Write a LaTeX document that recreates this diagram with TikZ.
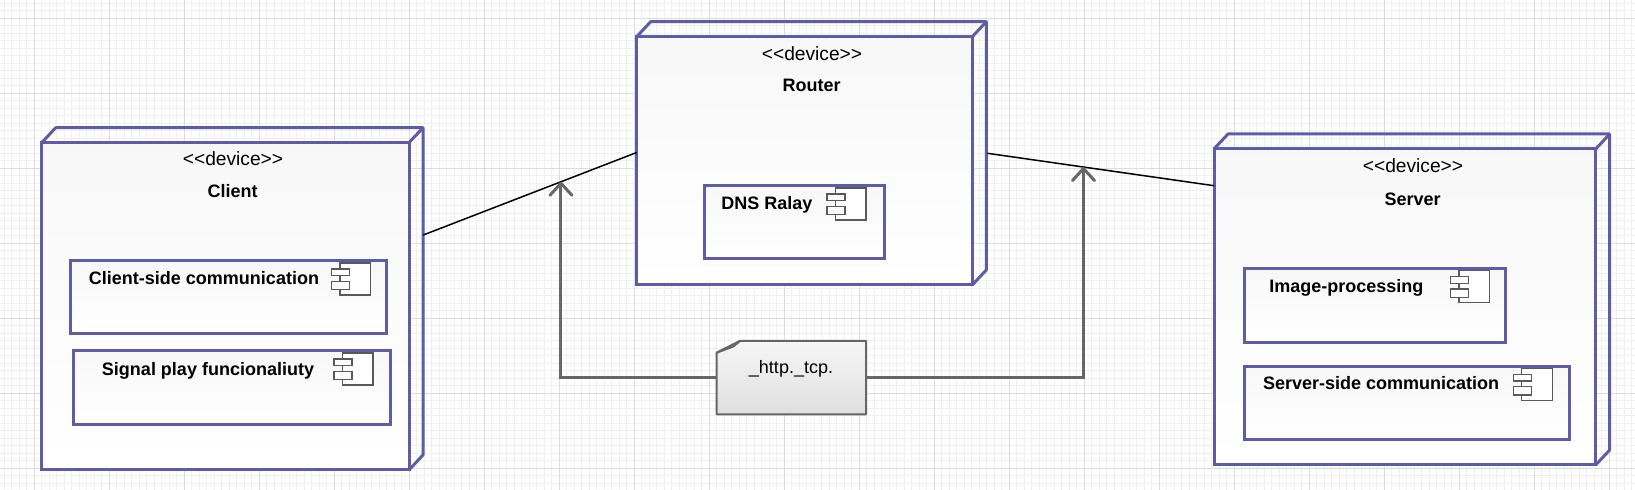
\documentclass[tikz,border=0pt]{standalone}
\usepackage{fontspec}
\setmainfont{Liberation Sans}
\usetikzlibrary{arrows.meta,fit}

\definecolor{devblue}{RGB}{95,91,167}
\definecolor{gridminor}{RGB}{240,240,240}
\definecolor{gridmajor}{RGB}{220,220,220}
\definecolor{linegray}{RGB}{102,102,102}

\tikzset{
  device/.style={draw=devblue, line width=1.5pt, top color=gray!6, bottom color=white, inner sep=0pt},
  devline/.style={draw=devblue, line width=1.5pt, line join=round},
  comp/.style={draw=devblue, line width=1.5pt, top color=gray!6, bottom color=white, inner sep=0pt},
  icon/.style={draw=black!65, line width=0.75pt, fill=white},
  compicon/.pic={
    \draw[icon] (8.3,0) rectangle (39,32);
    \draw[icon] (0,6) rectangle (18,12.7);
    \draw[icon] (0,18.3) rectangle (18,26.7);
  },
  stereo/.style={font=\fontsize{9.6}{11}\selectfont, anchor=base, inner sep=0pt},
  memotext/.style={font=\fontsize{9}{11}\selectfont, anchor=base, inner sep=0pt},
  title/.style={font=\fontsize{9}{11}\selectfont\bfseries, anchor=base, inner sep=0pt},
  link/.style={black, line width=0.75pt},
  flow/.style={draw=linegray, line width=1.5pt, -{Straight Barb[length=6pt,width=11pt,round]}},
  memobox/.style={draw=linegray, line width=1pt, line join=round, top color=gray!7, bottom color=gray!25}
}

\begin{document}
\begin{tikzpicture}[x=0.5pt,y=-0.5pt]
    \useasboundingbox (0,0) rectangle (1635,490);
    \fill[white] (0,0) rectangle (1635,490);
    % grid paper
    \foreach \gx in {4,11.5,...,1635} \draw[gridminor, line width=0.5pt] (\gx,0) -- (\gx,490);
    \foreach \gy in {3.3,10.8,...,490} \draw[gridminor, line width=0.5pt] (0,\gy) -- (1635,\gy);
    \foreach \gx in {34,109,...,1635} \draw[gridmajor, line width=0.5pt] (\gx,0) -- (\gx,490);
    \foreach \gy in {18.3,93.3,...,490} \draw[gridmajor, line width=0.5pt] (0,\gy) -- (1635,\gy);

    % devices (front face + depth)
    \foreach \nm/\xa/\ya/\xb/\yb in {client/41.7/142.7/409/470, router/636.7/36.7/972.3/285, server/1214/149/1595.7/465}{
    \node[device, fit={(\xa,\ya)(\xb,\yb)}] (\nm) {};
    \draw[devline] (\xa,\ya) -- ++(14,-15) -- (\xb+14,\ya-15) -- (\xb+14,\yb-15) -- (\xb,\yb);
    \draw[devline] (\xb,\ya) -- ++(14,-15);
    }

    \node[stereo] (clientst) at (233,165.7) {<\kern0pt<device>\kern0pt>};
    \node[title] (clientnm) at (232.7,197.3) {Client};
    \node[stereo] (routerst) at (812,60.7) {<\kern0pt<device>\kern0pt>};
    \node[title] (routernm) at (811.7,92) {Router};
    \node[stereo] (serverst) at (1413,172.7) {<\kern0pt<device>\kern0pt>};
    \node[title] (servernm) at (1412.7,205.3) {Server};

    % components with icon
    \foreach \nm/\xa/\ya/\xb/\yb/\ix/\iy in {clicomm/70.7/261/386.7/334/331.7/263, signal/73.3/351/390/425/334/353, dns/704/185.7/884/259/827/188, imgproc/1244/268.3/1505.7/342.3/1450.7/270.7, srvcomm/1244/366.7/1569/439.3/1513.3/368.3}{
    \node[comp, fit={(\xa,\ya)(\xb,\yb)}] (\nm) {};
    \pic at (\ix,\iy) {compicon};
    }

    \node[title] (clicommnm) at (204,285) {Client-side communication};
    \node[title] (signalnm) at (208,375.7) {Signal play funcionaliuty};
    \node[title] (dnsnm) at (767,210) {DNS Ralay};
    \node[title] (imgprocnm) at (1346.3,292.3) {Image-processing};
    \node[title] (srvcommnm) at (1381.2,390) {Server-side communication};

    % links between devices
    \coordinate (clientport) at (423.3,235);
    \coordinate (routerwest) at (636.7,152.5);
    \coordinate (routereast) at (987.4,153.3);
    \coordinate (serverwest) at (1214,185.7);
    \draw[link] (clientport) -- (routerwest) coordinate[pos=0.645] (tipL);
    \draw[link] (routereast) -- (serverwest) coordinate[pos=0.424] (tipR);

    % note on the protocol
    \node[fit={(716.7,341)(866,414.3)}, inner sep=0pt] (memo) {};
    \draw[memobox] (716.7,352.7) -- (740,341) -- (866,341) -- (866,414.3) -- (716.7,414.3) -- cycle;
    \draw[draw=linegray, line width=1pt, line join=round, fill=white] (716.7,352.7) -- (733.3,346.5) -- (740,341) -- cycle;
    \node[memotext] (memotxt) at (791,373.3) {\_http.\_tcp.};

    \draw[flow] (memo.west) -| (tipL);
    \draw[flow] (memo.east) -| (tipR);
\end{tikzpicture}
\end{document}
